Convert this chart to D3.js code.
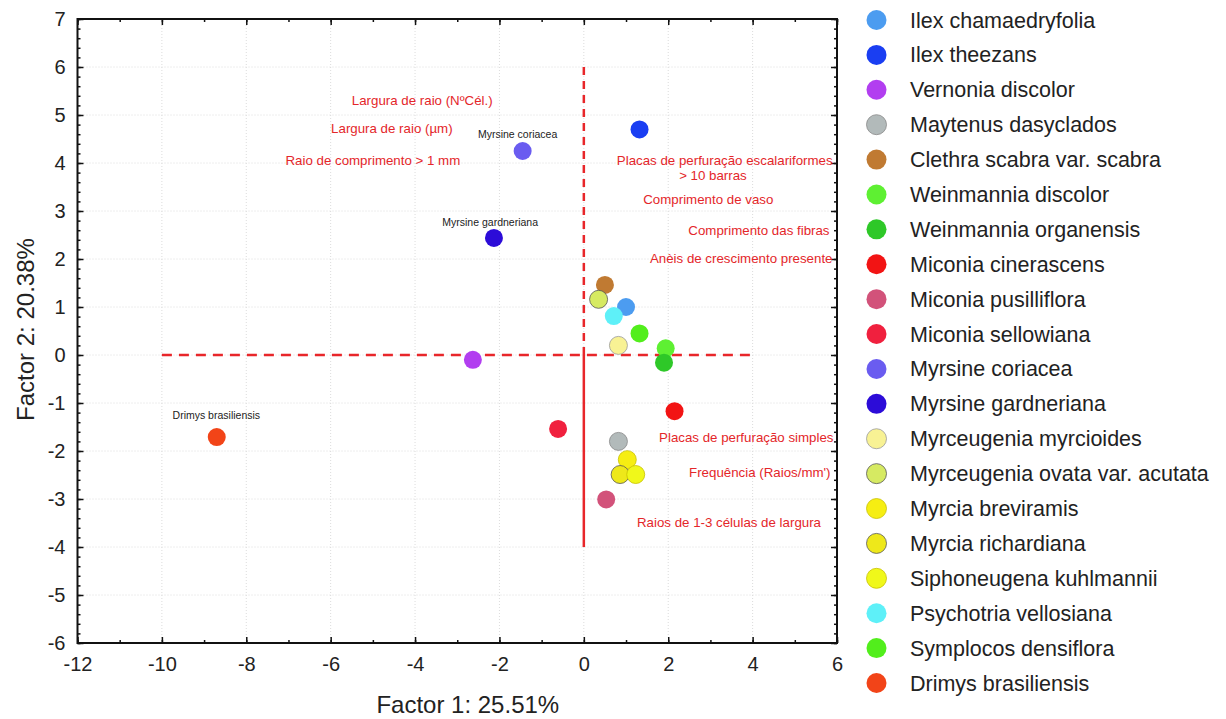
<!DOCTYPE html>
<html lang="en">
<head>
<meta charset="utf-8">
<title>Factor plot</title>
<script src="https://d3js.org/d3.v7.min.js"></script>
<style>
  body { margin: 0; background: #fff; }
  svg text { font-family: "Liberation Sans", Arial, sans-serif; }
</style>
</head>
<body>
<div id="chart"></div>
<script>
// species, in legend order
var species = ["Ilex chamaedryfolia", "Ilex theezans", "Vernonia discolor", "Maytenus dasyclados",
  "Clethra scabra var. scabra", "Weinmannia discolor", "Weinmannia organensis", "Miconia cinerascens",
  "Miconia pusilliflora", "Miconia sellowiana", "Myrsine coriacea", "Myrsine gardneriana",
  "Myrceugenia myrcioides", "Myrceugenia ovata var. acutata", "Myrcia breviramis", "Myrcia richardiana",
  "Siphoneugena kuhlmannii", "Psychotria vellosiana", "Symplocos densiflora", "Drimys brasiliensis"];

// scores
var factor1 = [1.00, 1.32, -2.63, 0.82, 0.50, 1.94, 1.90, 2.15, 0.53, -0.61, -1.45, -2.13,
  0.82, 0.35, 1.03, 0.86, 1.23, 0.71, 1.32, -8.70];
var factor2 = [1.00, 4.70, -0.10, -1.80, 1.46, 0.14, -0.16, -1.17, -3.01, -1.54, 4.25, 2.44,
  0.20, 1.16, -2.18, -2.49, -2.49, 0.81, 0.45, -1.71];

var pointColors = ["#4c9cf0", "#1a3ef2", "#b23ef0", "#b2baba", "#c07a32", "#5ef032", "#2ec828", "#f21414",
  "#d2527a", "#f0203e", "#6a5cf0", "#2c0cd8", "#f8f294", "#d6ea62", "#f6ee12", "#eee81a",
  "#f0f81a", "#5ef0f8", "#52ee1c", "#f24418"];
var pointBorders = [null, null, null, "#888", null, null, null, null,
  null, null, null, null, "#999", "#555", "#c8c000", "#555",
  "#c8c000", null, null, null];

// variable labels (red) and species labels (black), anchored in factor coordinates
var varLabels = ["Largura de raio (NºCél.)", "Largura de raio (µm)", "Raio de comprimento > 1 mm",
  "Placas de perfuração escalariformes", "> 10 barras", "Comprimento de vaso", "Comprimento das fibras",
  "Anèis de crescimento presente", "Placas de perfuração simples", "Frequência (Raios/mm')",
  "Raios de 1-3 células de largura"];
var varLabelX = [-3.83, -4.55, -5.00, 3.34, 3.06, 2.95, 4.15, 3.73, 3.85, 4.17, 3.44];
var varLabelY = [5.31, 4.73, 4.06, 4.06, 3.75, 3.25, 2.59, 2.01, -1.71, -2.45, -3.49];

var nameLabels = ["Myrsine coriacea", "Myrsine gardneriana", "Drimys brasiliensis"];
var nameLabelX = [-1.57, -2.22, -8.71];
var nameLabelY = [4.60, 2.77, -1.25];

var xTicks = [-12, -10, -8, -6, -4, -2, 0, 2, 4, 6];
var yTicks = [7, 6, 5, 4, 3, 2, 1, 0, -1, -2, -3, -4, -5, -6];

var totalW = 1226, totalH = 719;
var margin = {top: 19, right: 389, bottom: 76, left: 77.5};
var width = totalW - margin.left - margin.right,
    height = totalH - margin.top - margin.bottom;

var svg = d3.select("#chart").append("svg")
  .attr("width", totalW)
  .attr("height", totalH);

var g = svg.append("g")
  .attr("transform", "translate(" + margin.left + "," + margin.top + ")");

var x = d3.scaleLinear().domain([-12, 6]).range([0, width]);
var y = d3.scaleLinear().domain([-6, 7]).range([height, 0]);

// plain hyphen for negatives, like the original
var plain = function(d) { return String(d); };

// grid
g.append("g").selectAll("line").data(xTicks.slice(1, -1)).enter().append("line")
  .attr("x1", function(d) { return x(d); }).attr("x2", function(d) { return x(d); })
  .attr("y1", 0).attr("y2", height)
  .attr("stroke", "#dcdcdc").attr("stroke-dasharray", "1,2");
g.append("g").selectAll("line").data(yTicks.slice(1, -1)).enter().append("line")
  .attr("y1", function(d) { return y(d); }).attr("y2", function(d) { return y(d); })
  .attr("x1", 0).attr("x2", width)
  .attr("stroke", "#dcdcdc").attr("stroke-dasharray", "1,2");

// reference lines
var red = "#e8262a";
g.append("line")
  .attr("x1", x(-10)).attr("x2", x(4)).attr("y1", y(0)).attr("y2", y(0))
  .attr("stroke", red).attr("stroke-width", 2.5).attr("stroke-dasharray", "10,7");
g.append("line")
  .attr("x1", x(0)).attr("x2", x(0)).attr("y1", y(6)).attr("y2", y(0))
  .attr("stroke", red).attr("stroke-width", 2.5).attr("stroke-dasharray", "8,6");
g.append("line")
  .attr("x1", x(0)).attr("x2", x(0)).attr("y1", y(0)).attr("y2", y(-4))
  .attr("stroke", red).attr("stroke-width", 2.5);

// axes: ticks point inward, on all four sides
var xMinor = d3.range(-12, 6.01, 1);
var yMinor = d3.range(-6, 7.01, 0.2);

function styleAxis(sel) {
  sel.select(".domain").remove();
  sel.selectAll(".tick line").attr("stroke", "#111").attr("stroke-width", 1.5);
  sel.selectAll("text").style("font-size", "20px").attr("fill", "#222");
}

g.append("g").attr("transform", "translate(0," + height + ")")
  .call(d3.axisBottom(x).tickValues(xTicks).tickSize(-6).tickPadding(14).tickFormat(plain))
  .call(styleAxis);
g.append("g").attr("transform", "translate(0," + height + ")")
  .call(d3.axisBottom(x).tickValues(xMinor).tickSize(-3).tickFormat(""))
  .call(styleAxis);
g.append("g")
  .call(d3.axisTop(x).tickValues(xTicks).tickSize(-6).tickFormat(""))
  .call(styleAxis);
g.append("g")
  .call(d3.axisTop(x).tickValues(xMinor).tickSize(-3).tickFormat(""))
  .call(styleAxis);

g.append("g")
  .call(d3.axisLeft(y).tickValues(yTicks).tickSize(-6).tickPadding(12).tickFormat(plain))
  .call(styleAxis);
g.append("g")
  .call(d3.axisLeft(y).tickValues(yMinor).tickSize(-3).tickFormat(""))
  .call(styleAxis);
g.append("g").attr("transform", "translate(" + width + ",0)")
  .call(d3.axisRight(y).tickValues(yTicks).tickSize(-6).tickFormat(""))
  .call(styleAxis);
g.append("g").attr("transform", "translate(" + width + ",0)")
  .call(d3.axisRight(y).tickValues(yMinor).tickSize(-3).tickFormat(""))
  .call(styleAxis);

// frame
g.append("rect")
  .attr("width", width).attr("height", height)
  .attr("fill", "none").attr("stroke", "#111").attr("stroke-width", 2);

// variable labels
g.selectAll(".varLabel").data(varLabels).enter().append("text")
  .attr("class", "varLabel")
  .attr("x", function(d, i) { return x(varLabelX[i]); })
  .attr("y", function(d, i) { return y(varLabelY[i]); })
  .attr("dy", "0.35em")
  .attr("text-anchor", "middle")
  .style("font-size", "13.3px")
  .attr("fill", "#e4262a")
  .text(function(d) { return d; });

// species labels
g.selectAll(".nameLabel").data(nameLabels).enter().append("text")
  .attr("class", "nameLabel")
  .attr("x", function(d, i) { return x(nameLabelX[i]); })
  .attr("y", function(d, i) { return y(nameLabelY[i]); })
  .attr("dy", "0.35em")
  .attr("text-anchor", "middle")
  .style("font-size", "10.5px")
  .attr("fill", "#222")
  .text(function(d) { return d; });

// points
var pts = species.map(function(s, i) { return {name: s, f1: factor1[i], f2: factor2[i], i: i}; });
g.selectAll(".pt").data(pts).enter().append("circle")
  .attr("class", "pt")
  .attr("cx", function(d) { return x(d.f1); })
  .attr("cy", function(d) { return y(d.f2); })
  .attr("r", 9)
  .attr("fill", function(d) { return pointColors[d.i]; })
  .attr("stroke", function(d) { return pointBorders[d.i] || "none"; })
  .attr("stroke-width", 0.8);

// axis titles
svg.append("text")
  .attr("x", margin.left + x(-2.75))
  .attr("y", 713)
  .attr("text-anchor", "middle")
  .style("font-size", "24px")
  .attr("fill", "#222")
  .text("Factor 1: 25.51%");

svg.append("text")
  .attr("transform", "translate(34," + (margin.top + y(0.53)) + ") rotate(-90)")
  .attr("text-anchor", "middle")
  .style("font-size", "24px")
  .attr("fill", "#222")
  .text("Factor 2: 20.38%");

// legend
var ly = d3.scalePoint().domain(species).range([20, 683]);
var legend = svg.append("g");
var rows = legend.selectAll(".row").data(pts).enter().append("g")
  .attr("transform", function(d) { return "translate(876.5," + ly(d.name) + ")"; });
rows.append("circle")
  .attr("r", 10)
  .attr("fill", function(d) { return pointColors[d.i]; })
  .attr("stroke", function(d) { return pointBorders[d.i] || "none"; })
  .attr("stroke-width", 0.8);
rows.append("text")
  .attr("x", 33.5)
  .attr("dy", "0.35em")
  .style("font-size", "21.5px")
  .attr("fill", "#222")
  .text(function(d) { return d.name; });
</script>
</body>
</html>
